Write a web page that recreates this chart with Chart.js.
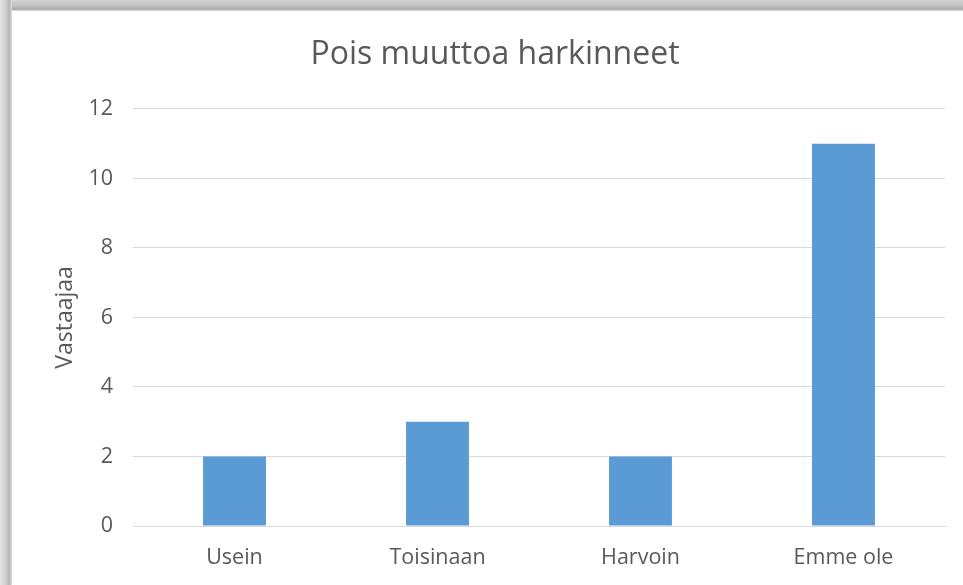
<!DOCTYPE html>
<html>
<head>
<meta charset="utf-8">
<script src="https://cdn.jsdelivr.net/npm/chart.js@4/dist/chart.umd.min.js"></script>
<style>
  html, body { margin: 0; padding: 0; }
  body { width: 963px; height: 585px; overflow: hidden; position: relative;
         background: linear-gradient(to bottom, #d4d4d4 0px, #bdbdbd 7px, #a9a9a9 9px, #dcdcdc 11px); }
  #side { position: absolute; left: 0; top: 0; width: 12px; height: 585px;
          background: linear-gradient(to right, #e6e6e6 0px, #cfcfcf 6px, #b4b4b4 9px, #dedede 12px); }
  #box { position: absolute; left: 12px; top: 11px; width: 951px; height: 574px; background: #fff; }
</style>
</head>
<body>
<div id="side"></div>
<div id="box"><canvas id="myChart" width="951" height="574"></canvas></div>
<script>
// values
const categories = ["Usein", "Toisinaan", "Harvoin", "Emme ole"];
const answers = [2, 3, 2, 11];
const yTicks = [0, 2, 4, 6, 8, 10, 12];

const grey = "#595959";
const face = "'Open Sans'";

new Chart("myChart", {
  type: "bar",
  data: {
    labels: categories,
    datasets: [{
      label: "Vastaajaa",
      data: answers,
      backgroundColor: "#5b9bd5",
      borderWidth: 0,
      categoryPercentage: 1,
      barPercentage: 0.31
    }]
  },
  options: {
    responsive: false,
    animation: false,
    layout: { padding: { left: 33, right: 18, top: 0, bottom: 0 } },
    plugins: {
      legend: { display: false },
      tooltip: { enabled: false },
      title: {
        display: true,
        text: "Pois muuttoa harkinneet",
        color: grey,
        font: { family: face, size: 32, weight: "normal", lineHeight: 1.2 },
        padding: { top: 25, bottom: 34.5 }
      }
    },
    scales: {
      x: {
        grid: { display: false },
        border: { color: "#d9d9d9", width: 1 },
        ticks: { color: grey, font: { family: face, size: 21.5 }, padding: 11 },
        afterFit: s => { s.height = 59; }
      },
      y: {
        min: 0,
        max: 12,
        afterBuildTicks: s => { s.ticks = yTicks.map(v => ({ value: v })); },
        grid: { color: "#d9d9d9", drawTicks: false },
        border: { display: false },
        ticks: { color: grey, font: { family: face, size: 21.5 }, padding: 20 },
        title: {
          display: true,
          text: "Vastaajaa",
          color: grey,
          font: { family: face, size: 23 },
          padding: { top: 7, bottom: 0 }
        },
        afterFit: s => { s.width = 88; }
      }
    }
  }
});
</script>
</body>
</html>
